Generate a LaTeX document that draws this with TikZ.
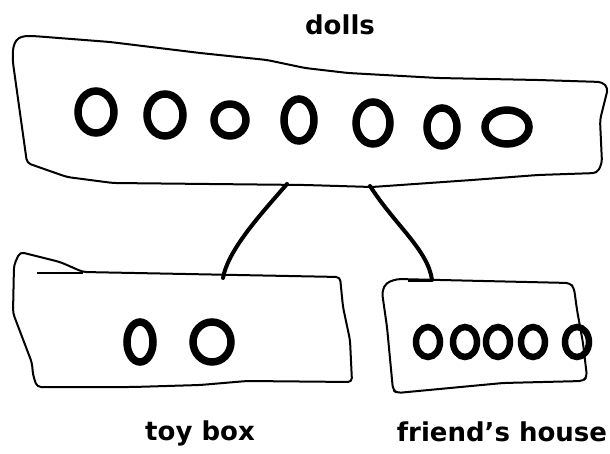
\documentclass[tikz,border=0pt]{standalone}
\usepackage{fontspec}
\setmainfont{DejaVu Sans}
\begin{document}
\begin{tikzpicture}[
  x=1pt, y=-1pt,
  outline/.style={draw, line width=2pt, rounded corners=4pt, line join=round},
  doll/.style={draw, line width=7.5pt},
  smalldoll/.style={draw, line width=6.5pt},
  link/.style={line width=4pt, line cap=round},
  caption/.style={anchor=base, inner sep=0pt, font=\bfseries\fontsize{26}{30}\selectfont}
]
\useasboundingbox (0,0) rectangle (610,454);

\node[caption] (dollslabel) at (340,35) {dolls};
\node[caption] (toylabel) at (200,440) {toy box};
\node[caption] (friendlabel) at (502,441) {friend's house};

\draw[outline] (13,63) .. controls (12,40) and (18,36) .. (33,36)
  -- (110,42) -- (200,53) -- (267,60) -- (305,68) -- (348,73)
  -- (438,78) -- (538,80) -- (602,82) -- (608,88) -- (600,120)
  -- (602,163) -- (597,173) -- (538,175) -- (472,180) -- (372,187)
  -- (305,185) -- (113,183) -- (67,177) -- (27,163) -- cycle;

\draw[outline] (83,272) -- (340,277) -- (343,307) -- (350,340)
  -- (352,382) -- (247,381) -- (200,385) -- (133,387) -- (37,387)
  -- (33,375) -- (32,363) -- (13,313) -- (14,265) -- (20,252)
  -- (60,262) -- cycle;
\draw[line width=2pt] (37,273) -- (83,273);

\draw[outline] (397,279) -- (570,283) -- (574,288) -- (577,310)
  -- (583,343) -- (587,377) -- (583,381) -- (503,383) -- (397,393)
  -- (393,390) -- (387,327) -- (382,292) -- (386,283) -- cycle;
\draw[line width=2pt] (408,281) -- (432,281);

\coordinate (dollsleft) at (287,184);
\coordinate (dollsright) at (370,186);
\coordinate (toyin) at (223,278);
\coordinate (friendin) at (432,280);
\draw[link] (dollsleft) .. controls (260,215) and (228,250) .. (toyin);
\draw[link] (dollsright) .. controls (395,225) and (428,250) .. (friendin);

\foreach \x/\y/\r/\s in {96/112/18/21, 165/115/18/21, 230/120/16/16,
    299/120/15/21, 373/123/17/21, 442/127/15/19, 507/127/22/17}
  \draw[doll] (\x,\y) ellipse [x radius=\r, y radius=\s];
\foreach \x/\r in {140/13, 212/19}
  \draw[doll] (\x,342) ellipse [x radius=\r, y radius=20];
\foreach \x in {428,465,498,533,577}
  \draw[smalldoll] (\x,342) ellipse [x radius=12, y radius=15];
\end{tikzpicture}
\end{document}
